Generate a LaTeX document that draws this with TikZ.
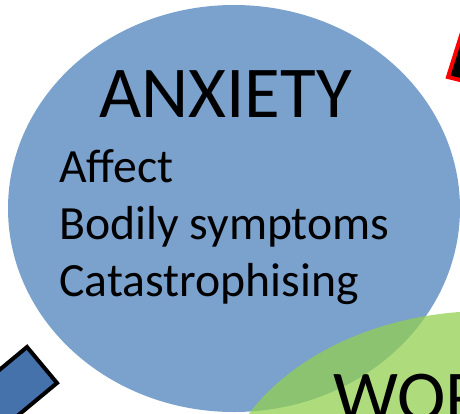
\documentclass[tikz,border=0pt]{standalone}
\usepackage{fontspec}
\setmainfont{Carlito}
\definecolor{anxblue}{HTML}{7BA1CD}
\definecolor{worgreen}{HTML}{92D050}
\definecolor{arrowblue}{HTML}{4672AC}
\begin{document}
\begin{tikzpicture}[x=1pt,y=-1pt,
  title/.style={anchor=base west,inner sep=0pt,font=\fontsize{73}{73}\selectfont},
  item/.style={anchor=base west,inner sep=0pt,font=\fontsize{47.7}{47.7}\selectfont},
  shaft/.style={draw=black,line width=4pt,line join=miter}]
\useasboundingbox (0,0) rectangle (460,413);
\clip (0,0) rectangle (460,413);
% blue arrow (bottom left)
\draw[shaft,fill=arrowblue] (27,347) -- (57,383) -- (-20,447) -- (-50,411) -- cycle;
% red/black arrow (top right)
\draw[shaft,draw=red,fill=black] (476,-12) -- (448,77) -- (492,88) -- cycle;
% anxiety circle
\fill[anxblue] (234,208.5) ellipse [x radius=226, y radius=203.5];
\node[title] (anx) at (99,117) {ANXIETY};
\node[item] (aff) at (59,182) {Affect};
\node[item] (bod) at (59,239) {Bodily symptoms};
\node[item] (cat) at (59,296) {Catastrophising};
% worry circle
\fill[worgreen,opacity=0.74] (487,510) ellipse [x radius=272, y radius=199];
\node[title] (wor) at (333,421) {WOR};
\end{tikzpicture}
\end{document}
